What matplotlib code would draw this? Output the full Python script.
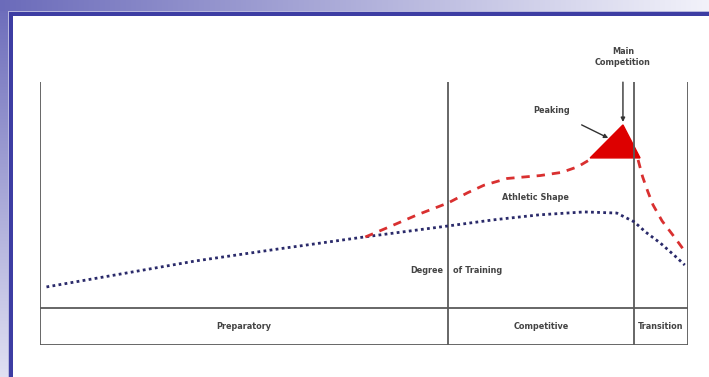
import numpy as np
import matplotlib
matplotlib.use("Agg")
import matplotlib.pyplot as plt
from matplotlib.patches import Polygon

# time axis 0..100 (share of the season), level axis 0..100
phases = ["Preparatory", "Competitive", "Transition"]
phase_edges = [0, 63.0, 91.7, 100]

training_x = [1, 12, 24, 37, 50, 63, 70, 77, 84, 89, 91.7, 93.5, 95.7, 97.8, 99.5]
training_y = [9.3, 14.8, 20.8, 26.2, 31.4, 36.3, 39.0, 41.2, 42.5, 42.0, 38.1, 33.5, 28.8, 23.5, 19.0]

shape_x = [50.2, 54, 58.2, 63.0, 66.0, 68.5, 72.1, 77.2, 80.5, 83.0, 85.3]
shape_y = [31.4, 36.0, 41.2, 46.5, 51.0, 54.3, 57.3, 58.6, 60.0, 62.5, 66.4]
drop_x = [92.3, 93.0, 93.8, 94.6, 96.0, 98.0, 99.7]
drop_y = [65.5, 58.0, 51.5, 45.6, 38.5, 31.0, 24.3]

peak_x = [84.9, 92.6, 89.96]
peak_y = [66.4, 66.4, 81.0]

W, H = 709, 377
fig = plt.figure(figsize=(W / 100, H / 100), dpi=100)

# slide background
bg = np.ones((H, W, 3))
top = np.linspace(0, 1, W)[None, :, None]
blue = np.array([0.42, 0.42, 0.73])
light = np.array([0.95, 0.95, 0.98])
bg[:11, :, :] = blue + (light - blue) * top
left = np.linspace(0, 1, H)[:, None, None]
bg[11:, :9, :] = (blue + (np.array([0.88, 0.88, 0.95]) - blue) * left)[11:, :, :]
bg[11:12, 9:, :] = [0.72, 0.72, 0.87]
bg[11:, 8:9, :] = [0.72, 0.72, 0.87]
bg[12:16, 9:, :] = [0.24, 0.24, 0.64]
bg[12:, 9:13, :] = [0.24, 0.24, 0.64]
bax = fig.add_axes([0, 0, 1, 1])
bax.imshow(bg, aspect="auto", interpolation="nearest")
bax.axis("off")

# chart axes: x 40..688 px, y 82..345 px
ax = fig.add_axes([40 / W, 1 - 345 / H, 648 / W, 263 / H])
ax.set_xlim(0, 100)
ax.set_ylim(-16.4, 100)
ax.axis("off")

grey = "#5a5a5a"
for e in phase_edges:
    ax.plot([e, e], [-16.4, 100], color=grey, lw=1.3)
ax.plot([0, 100], [0, 0], color=grey, lw=1.3)
ax.plot([0, 100], [-16.4, -16.4], color=grey, lw=1.3)

font = dict(fontsize=6.5, family="DejaVu Sans", stretch="condensed", weight="bold",
            color="#444444")
for i, name in enumerate(phases):
    ax.text((phase_edges[i] + phase_edges[i + 1]) / 2, -8.4, name, ha="center",
            va="center", **font)

ax.plot(training_x, training_y, color="#2a2a6a", lw=2, linestyle=(0, (1, 1.2)))
ax.plot(shape_x, shape_y, color="#d93030", lw=2, linestyle=(0, (3, 2.5)))
ax.plot(drop_x, drop_y, color="#d93030", lw=2, linestyle=(0, (3, 2.5)))
ax.add_patch(Polygon(list(zip(peak_x, peak_y)), closed=True, color="#dd0000"))

ax.text(62.3, 16.4, "Degree", ha="right", va="center", **font)
ax.text(63.7, 16.4, "of Training", ha="left", va="center", **font)
ax.text(76.4, 49.1, "Athletic Shape", ha="center", va="center", **font)

ax.annotate("Main\nCompetition", xy=(peak_x[2], 82.3), xytext=(peak_x[2], 111),
            ha="center", va="center", annotation_clip=False,
            arrowprops=dict(arrowstyle="-|>", color="#333333", lw=1, mutation_scale=6,
                            shrinkA=9, shrinkB=0), **font)
ax.annotate("Peaking", xy=(87.7, 75.2), xytext=(79.0, 87.5),
            ha="center", va="center",
            arrowprops=dict(arrowstyle="-|>", color="#333333", lw=1, mutation_scale=6,
                            shrinkA=12, shrinkB=0), **font)

fig.savefig("out.png", dpi=100)
